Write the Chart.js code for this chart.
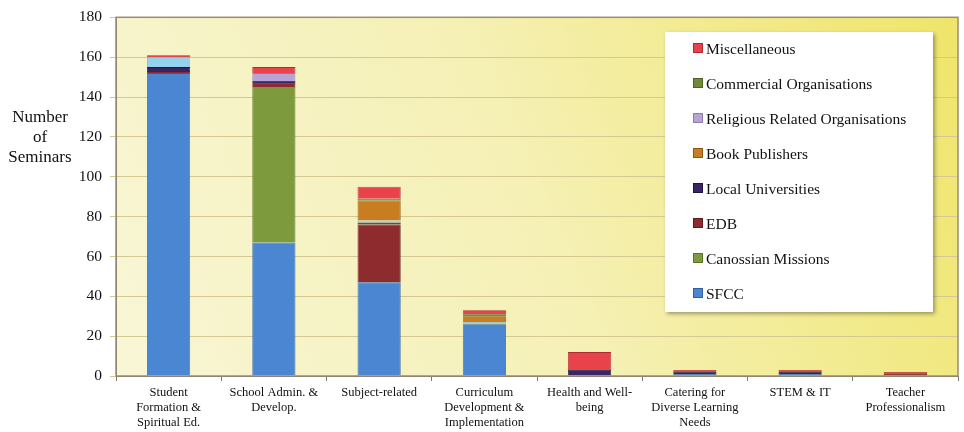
<!DOCTYPE html>
<html>
<head>
<meta charset="utf-8">
<script src="https://cdn.jsdelivr.net/npm/chart.js@4/dist/chart.umd.min.js"></script>
<style>
  html, body { margin: 0; padding: 0; background: #fff; }
  #wrap { position: relative; width: 964px; height: 432px; }
  #legend {
    position: absolute; left: 665px; top: 32px; width: 268px; height: 280px;
    background: #fff; box-shadow: 2px 2px 4px rgba(0,0,0,0.35);
    font-family: "Liberation Serif", serif; font-size: 15.5px; color: #111;
  }
  #legend div { position: absolute; left: 28px; height: 18px; line-height: 18px; white-space: nowrap; }
  #legend span.box { display: inline-block; width: 8px; height: 8px; margin-right: 3px; vertical-align: 1px; }
</style>
</head>
<body>
<div id="wrap">
  <canvas id="chart" width="964" height="432"></canvas>
  <div id="legend"></div>
</div>
<script>
// categories (multi-line labels)
const categories = [
  ['Student', 'Formation &', 'Spiritual Ed.'],
  ['School Admin. &', 'Develop.'],
  ['Subject-related'],
  ['Curriculum', 'Development &', 'Implementation'],
  ['Health and Well-', 'being'],
  ['Catering for', 'Diverse Learning', 'Needs'],
  ['STEM & IT'],
  ['Teacher', 'Professionalism']
];

// series values (stacked bottom -> top)
const sfcc        = [152, 67, 47, 26, 0, 1, 1, 0];
const canossian   = [0, 78, 0, 0, 0, 0, 0, 0];
const edb         = [1, 2, 29, 0, 0, 0, 0, 1];
const localUni    = [2, 1, 1, 0, 3, 1, 1, 0];
const other       = [5, 0, 1, 1, 0, 0, 0, 0];
const bookPub     = [0, 0, 10, 3, 0, 0, 0, 0];
const religious   = [0, 4, 0, 0, 0, 0, 0, 0];
const commercial  = [0, 0, 1, 1, 0, 0, 0, 0];
const misc        = [1, 3, 6, 2, 9, 1, 1, 1];

const yTicks = [0, 20, 40, 60, 80, 100, 120, 140, 160, 180];

const series = [
  { label: 'SFCC', data: sfcc, color: '#4a86d2', border: '#2f5f9e' },
  { label: 'Canossian Missions', data: canossian, color: '#7d9b3c', border: '#5b7528' },
  { label: 'EDB', data: edb, color: '#8e2b2e', border: '#5e1a1c' },
  { label: 'Local Universities', data: localUni, color: '#3a2468', border: '#221440' },
  { label: '', data: other, color: '#93d3ec', border: '#6fb2cc' },
  { label: 'Book Publishers', data: bookPub, color: '#c97d22', border: '#8f5614' },
  { label: 'Religious Related Organisations', data: religious, color: '#b8a4d4', border: '#8f7cae' },
  { label: 'Commercial Organisations', data: commercial, color: '#6e8a3a', border: '#4e6424' },
  { label: 'Miscellaneous', data: misc, color: '#e8434c', border: '#b02a32' }
];

// 图表区背景渐变 + 边框 + y 轴标题
const plotBg = {
  id: 'plotBg',
  beforeDraw(chart) {
    const { ctx, chartArea: a } = chart;
    const g = ctx.createLinearGradient(a.left, a.bottom, a.right, a.top);
    g.addColorStop(0, '#f8f6d6');
    g.addColorStop(0.5, '#f5f0b4');
    g.addColorStop(1, '#efe56a');
    ctx.save();
    ctx.fillStyle = g;
    ctx.fillRect(a.left, a.top, a.right - a.left, a.bottom - a.top);
    ctx.restore();
  },
  afterDraw(chart) {
    const { ctx, chartArea: a } = chart;
    ctx.save();
    ctx.strokeStyle = '#9a8c74';
    ctx.lineWidth = 1.5;
    ctx.strokeRect(a.left, a.top, a.right - a.left, a.bottom - a.top);
    ctx.fillStyle = '#111';
    ctx.font = '17px "Liberation Serif", serif';
    ctx.textAlign = 'center';
    ctx.textBaseline = 'middle';
    ctx.fillText('Number', 40, 118);
    ctx.fillText('of', 40, 138);
    ctx.fillText('Seminars', 40, 158);
    ctx.restore();
  }
};

new Chart(document.getElementById('chart'), {
  type: 'bar',
  data: {
    labels: categories,
    datasets: series.map(s => ({
      label: s.label,
      data: s.data,
      backgroundColor: s.color,
      borderColor: s.border,
      borderWidth: 0.8,
      barPercentage: 0.41,
      categoryPercentage: 1
    }))
  },
  options: {
    responsive: false,
    animation: false,
    layout: { padding: { left: 0, right: 6, top: 16, bottom: 0 } },
    plugins: { legend: { display: false }, tooltip: { enabled: false } },
    scales: {
      x: {
        stacked: true,
        offset: true,
        grid: { display: true, drawOnChartArea: false, drawTicks: true, tickLength: 5, color: '#777', offset: true },
        border: { color: '#777', width: 1 },
        ticks: { color: '#111', font: { family: '"Liberation Serif", serif', size: 12.5 }, padding: 4, maxRotation: 0, autoSkip: false },
        afterFit: s => { s.height = 56; }
      },
      y: {
        stacked: true,
        min: 0, max: 180,
        afterBuildTicks: s => { s.ticks = yTicks.map(v => ({ value: v })); },
        grid: { color: '#d6c892', lineWidth: 1, tickLength: 6, drawTicks: true },
        border: { color: '#777' },
        ticks: { color: '#111', font: { family: '"Liberation Serif", serif', size: 15.5 }, padding: 8 },
        afterFit: s => { s.width = 116; }
      }
    }
  },
  plugins: [plotBg]
});

// HTML legend (reversed order, unnamed series skipped)
const legend = document.getElementById('legend');
series.filter(s => s.label).reverse().forEach((s, i) => {
  const d = document.createElement('div');
  d.style.top = (8 + i * 35) + 'px';
  d.innerHTML = `<span class="box" style="background:${s.color};border:1px solid ${s.border}"></span>${s.label}`;
  legend.appendChild(d);
});
</script>
</body>
</html>
